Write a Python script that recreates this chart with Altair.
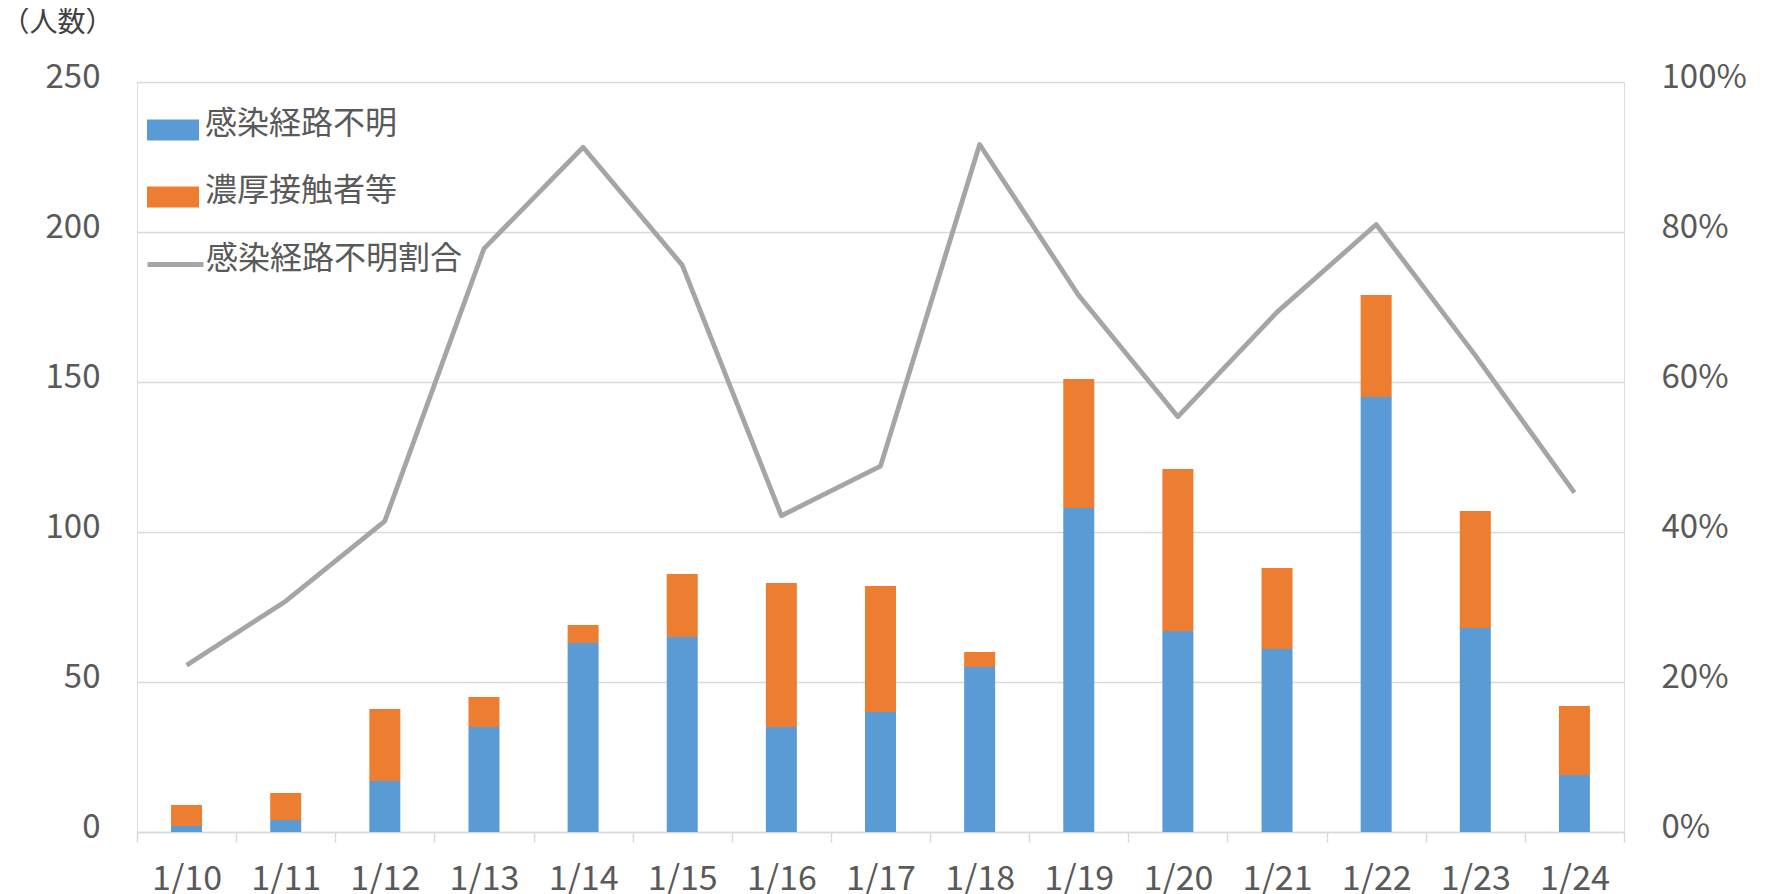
import altair as alt
import pandas as pd

dates = ["1/10", "1/11", "1/12", "1/13", "1/14", "1/15", "1/16", "1/17",
         "1/18", "1/19", "1/20", "1/21", "1/22", "1/23", "1/24"]
unknown = [2, 4, 17, 35, 63, 65, 35, 40, 55, 108, 67, 61, 145, 68, 19]
contact = [7, 9, 24, 10, 6, 21, 48, 42, 5, 43, 54, 27, 34, 39, 23]
bar_types = ["感染経路不明", "濃厚接触者等"]
line_name = "感染経路不明割合"

FONT = "Noto Sans CJK JP"
LABEL = "#595959"
GRID = "#d9d9d9"

rows = []
for d, u, c in zip(dates, unknown, contact):
    rows.append({"date": d, "type": bar_types[0], "value": u, "ord": 0})
    rows.append({"date": d, "type": bar_types[1], "value": c, "ord": 1})
bar_df = pd.DataFrame(rows)

ratio_df = pd.DataFrame({
    "date": dates,
    "ratio": [u / (u + c) for u, c in zip(unknown, contact)],
    "series": [line_name] * len(dates),
})

x_enc = alt.X(
    "date:N", sort=dates,
    scale=alt.Scale(paddingInner=0, paddingOuter=0),
    axis=alt.Axis(
        title=None, labelAngle=0, domain=True, domainColor=GRID, domainWidth=1.5,
        ticks=True, tickBand="extent", tickSize=10, tickColor=GRID, tickWidth=1.5,
        labelPadding=20, labelFontSize=34, labelColor=LABEL, labelFont=FONT, grid=False,
    ),
)

bars = alt.Chart(bar_df).mark_bar(width=31).encode(
    x=x_enc,
    y=alt.Y(
        "value:Q", stack="zero",
        scale=alt.Scale(domain=[0, 250], nice=False),
        axis=alt.Axis(
            values=[0, 50, 100, 150, 200, 250], title="（人数）", titleAngle=0,
            titleX=-136, titleY=-51, titleAlign="left", titleBaseline="alphabetic",
            titleFontSize=28, titleFontWeight="normal", titleColor="#404040", titleFont=FONT,
            domain=False, ticks=False, tickSize=0, labelPadding=37, labelFontSize=33,
            labelColor=LABEL, labelFont=FONT, labelOffset=-5,
            grid=True, gridColor=GRID, gridWidth=1.5,
        ),
    ),
    color=alt.Color(
        "type:N",
        scale=alt.Scale(domain=bar_types, range=["#5B9BD5", "#ED7D31"]),
        legend=alt.Legend(
            title=None, orient="none", legendX=10, legendY=16,
            symbolType="M-1,-0.173H1V0.635H-1Z", symbolSize=2704, symbolStrokeWidth=0,
            symbolOpacity=1, labelFontSize=32, labelColor=LABEL, labelFont=FONT,
            labelOffset=6, rowPadding=24, labelLimit=600, padding=0,
        ),
    ),
    order=alt.Order("ord:Q"),
)

line = alt.Chart(ratio_df).mark_line(strokeWidth=4.8, strokeJoin="round").encode(
    x=alt.X("date:N", sort=dates),
    y=alt.Y(
        "ratio:Q",
        scale=alt.Scale(domain=[0, 1], nice=False),
        axis=alt.Axis(
            orient="right", format=".0%", values=[0, 0.2, 0.4, 0.6, 0.8, 1.0],
            title=None, grid=False, domain=False, ticks=False, tickSize=0,
            labelPadding=37, labelFontSize=33, labelColor=LABEL, labelFont=FONT,
            labelOffset=-5,
        ),
    ),
    stroke=alt.Stroke(
        "series:N",
        scale=alt.Scale(domain=[line_name], range=["#A5A5A5"]),
        legend=alt.Legend(
            title=None, orient="none", legendX=8, legendY=146,
            symbolType="M-1,0.214H1", symbolSize=3136, symbolStrokeWidth=4.8,
            labelFontSize=32, labelColor=LABEL, labelFont=FONT,
            labelOffset=0, labelLimit=600, padding=0,
        ),
    ),
)

chart = alt.layer(bars, line).resolve_scale(
    y="independent", color="independent", stroke="independent"
).properties(
    width=1487, height=750,
    autosize=alt.AutoSizeParams(type="none"),
    padding={"left": 129, "top": 74, "right": 130, "bottom": 70},
    background="white",
).configure_view(stroke=None).configure(font=FONT)

chart.save("out.html", embed_options={"renderer": "svg", "actions": False})
